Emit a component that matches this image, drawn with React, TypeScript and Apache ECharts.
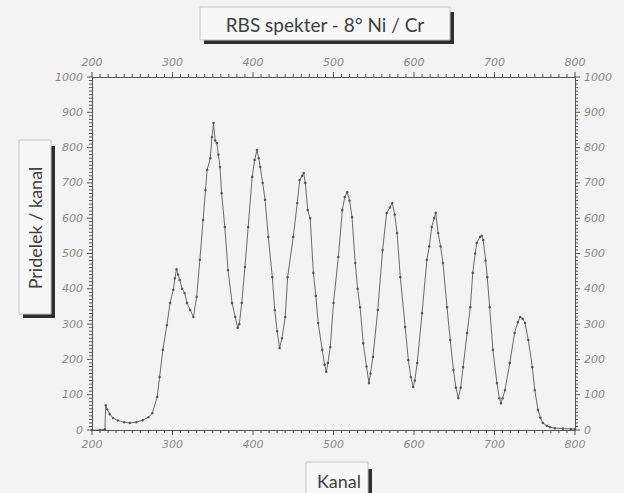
import React, { useEffect, useRef } from "react";
import * as echarts from "echarts";

const channels = [
  200, 210, 216, 217, 219, 222, 226, 232, 240, 247, 255, 263, 270, 275, 281, 284, 288, 293, 297, 301,
  303, 305, 307, 309, 312, 315, 318, 322, 326, 330, 334, 338, 341, 343, 347, 349, 351, 353, 355, 357,
  359, 361, 365, 369, 374, 378, 381, 383, 386, 390, 394, 399, 402, 405, 407, 409, 412, 415, 419, 424,
  427, 430, 433, 436, 440, 443, 450, 455, 458, 461, 463, 465, 468, 471, 475, 478, 481, 486, 489, 491,
  493, 496, 500, 506, 511, 514, 517, 520, 523, 527, 530, 533, 537, 541, 544, 546, 549, 555, 561, 566,
  570, 573, 576, 579, 583, 589, 593, 596, 599, 601, 604, 610, 616, 619, 622, 625, 627, 630, 633, 636,
  641, 645, 649, 652, 655, 658, 661, 666, 670, 673, 676, 678, 682, 684, 686, 689, 691, 694, 698, 703,
  706, 708, 710, 713, 719, 725, 729, 732, 735, 738, 742, 747, 750, 754, 757, 760, 765, 769, 775, 785,
  795, 800,
];

const counts = [
  0, 0, 2, 70, 58, 45, 34, 27, 22, 20, 22, 28, 36, 48, 94, 150, 227, 297, 360, 397,
  430, 455, 440, 425, 400, 388, 360, 340, 320, 377, 482, 595, 680, 737, 770, 830, 870, 820, 813, 780,
  745, 671, 575, 453, 360, 320, 290, 300, 360, 462, 575, 717, 765, 793, 770, 745, 700, 652, 547, 433,
  340, 280, 232, 260, 320, 433, 547, 643, 708, 720, 728, 700, 623, 600, 445, 380, 303, 227, 185, 165,
  190, 235, 360, 490, 623, 660, 674, 650, 603, 473, 400, 348, 246, 180, 133, 160, 207, 340, 510, 615,
  630, 643, 610, 558, 433, 292, 198, 150, 122, 140, 190, 331, 482, 520, 575, 600, 615, 558, 520, 473,
  348, 255, 170, 120, 91, 120, 178, 275, 348, 445, 500, 530, 547, 550, 538, 480, 433, 348, 227, 133,
  90, 76, 90, 113, 190, 275, 305, 320, 315, 303, 255, 178, 113, 57, 35, 20, 12, 8, 5, 4,
  3, 3,
];

// axis tick positions (every 10 units; every 100th is a major tick)
const X_MIN = 200;
const X_MAX = 800;
const Y_MIN = 0;
const Y_MAX = 1000;
const xTickValues = Array.from({ length: 61 }, (_, i) => X_MIN + i * 10);
const yTickValues = Array.from({ length: 101 }, (_, i) => Y_MIN + i * 10);

const titleText = "RBS spekter - 8° Ni / Cr";
const yTitle = "Pridelek / kanal";
const xTitle = "Kanal";

export default function App() {
  const ref = useRef<HTMLDivElement>(null);
  useEffect(() => {
    if (!ref.current) return;
    const chart = echarts.init(ref.current, undefined, { renderer: "svg" });
    const data = channels.map((c, i) => [c, counts[i]]);
    const tickColor = "#555";
    const labelStyle = {
      color: "#8a8a8a",
      fontStyle: "italic" as const,
      fontSize: 11,
      fontFamily: "DejaVu Sans",
      margin: 9,
      formatter: (v: number) => String(Math.round(v)),
    };
    const axisCommon = {
      type: "value" as const,
      axisLine: { show: true, onZero: false, lineStyle: { color: "#555", width: 1 } },
      axisTick: { show: false },
      splitLine: { show: false },
      axisLabel: labelStyle,
    };
    const tickLine = (x1: number, y1: number, x2: number, y2: number) => ({
      type: "line",
      shape: { x1, y1, x2, y2 },
      style: { stroke: tickColor, lineWidth: 1 },
      silent: true,
    });
    const shadow = "#2e2e2e";
    const boxFill = "#f7f7f7";
    const boxStroke = "#c4c4c4";
    chart.setOption({
      animation: false,
      backgroundColor: "#f3f3f3",
      grid: { left: 92, right: 49, top: 77, bottom: 63 },
      xAxis: [
        { ...axisCommon, position: "bottom", min: X_MIN, max: X_MAX, interval: 100 },
        { ...axisCommon, position: "top", min: X_MIN, max: X_MAX, interval: 100 },
      ],
      yAxis: [
        { ...axisCommon, position: "left", min: Y_MIN, max: Y_MAX, interval: 100 },
        { ...axisCommon, position: "right", min: Y_MIN, max: Y_MAX, interval: 100 },
      ],
      series: [
        {
          type: "line",
          data,
          xAxisIndex: 0,
          yAxisIndex: 0,
          showSymbol: true,
          symbol: "circle",
          symbolSize: 2.5,
          itemStyle: { color: "#555" },
          lineStyle: { color: "#6a6a6a", width: 1 },
        },
        {
          type: "custom",
          xAxisIndex: 0,
          yAxisIndex: 0,
          silent: true,
          clip: false,
          data: xTickValues.map((v) => [v, Y_MIN]),
          renderItem: (params: any, api: any) => {
            const v = api.value(0);
            const len = Math.round(v) % 100 === 0 ? 5 : 3;
            const b = api.coord([v, Y_MIN]);
            const t = api.coord([v, Y_MAX]);
            return {
              type: "group",
              children: [
                tickLine(b[0], b[1], b[0], b[1] + len),
                tickLine(t[0], t[1], t[0], t[1] - len),
              ],
            };
          },
        },
        {
          type: "custom",
          xAxisIndex: 0,
          yAxisIndex: 0,
          silent: true,
          clip: false,
          data: yTickValues.map((v) => [X_MIN, v]),
          renderItem: (params: any, api: any) => {
            const v = api.value(1);
            const len = Math.round(v) % 100 === 0 ? 5 : 3;
            const l = api.coord([X_MIN, v]);
            const r = api.coord([X_MAX, v]);
            return {
              type: "group",
              children: [
                tickLine(l[0], l[1], l[0] - len, l[1]),
                tickLine(r[0], r[1], r[0] + len, r[1]),
              ],
            };
          },
        },
      ],
      graphic: [
        // title box
        { type: "rect", shape: { x: 450, y: 12, width: 4, height: 32 }, style: { fill: shadow } },
        { type: "rect", shape: { x: 204, y: 40, width: 250, height: 4 }, style: { fill: shadow } },
        {
          type: "rect",
          shape: { x: 200, y: 7, width: 250, height: 33 },
          style: { fill: boxFill, stroke: boxStroke, lineWidth: 1 },
        },
        {
          type: "text",
          x: 325,
          y: 24,
          style: {
            text: titleText,
            fill: "#404040",
            font: "19px Lato",
            align: "center",
            verticalAlign: "middle",
          },
        },
        // y title box
        { type: "rect", shape: { x: 51, y: 146, width: 4, height: 172 }, style: { fill: shadow } },
        { type: "rect", shape: { x: 23, y: 314, width: 32, height: 4 }, style: { fill: shadow } },
        {
          type: "rect",
          shape: { x: 19, y: 140, width: 32, height: 174 },
          style: { fill: boxFill, stroke: boxStroke, lineWidth: 1 },
        },
        {
          type: "text",
          x: 35,
          y: 228,
          rotation: Math.PI / 2,
          style: {
            text: yTitle,
            fill: "#404040",
            font: "18px Lato",
            align: "center",
            verticalAlign: "middle",
          },
        },
        // x title box
        { type: "rect", shape: { x: 368, y: 469, width: 4, height: 30 }, style: { fill: shadow } },
        {
          type: "rect",
          shape: { x: 306, y: 462, width: 62, height: 40 },
          style: { fill: boxFill, stroke: boxStroke, lineWidth: 1 },
        },
        {
          type: "text",
          x: 339,
          y: 481,
          style: {
            text: xTitle,
            fill: "#404040",
            font: "18px Lato",
            align: "center",
            verticalAlign: "middle",
          },
        },
      ],
    });
    return () => chart.dispose();
  }, []);
  return (
    <div
      ref={ref}
      style={{ position: "fixed", left: 0, top: 0, width: 624, height: 493 }}
    />
  );
}
